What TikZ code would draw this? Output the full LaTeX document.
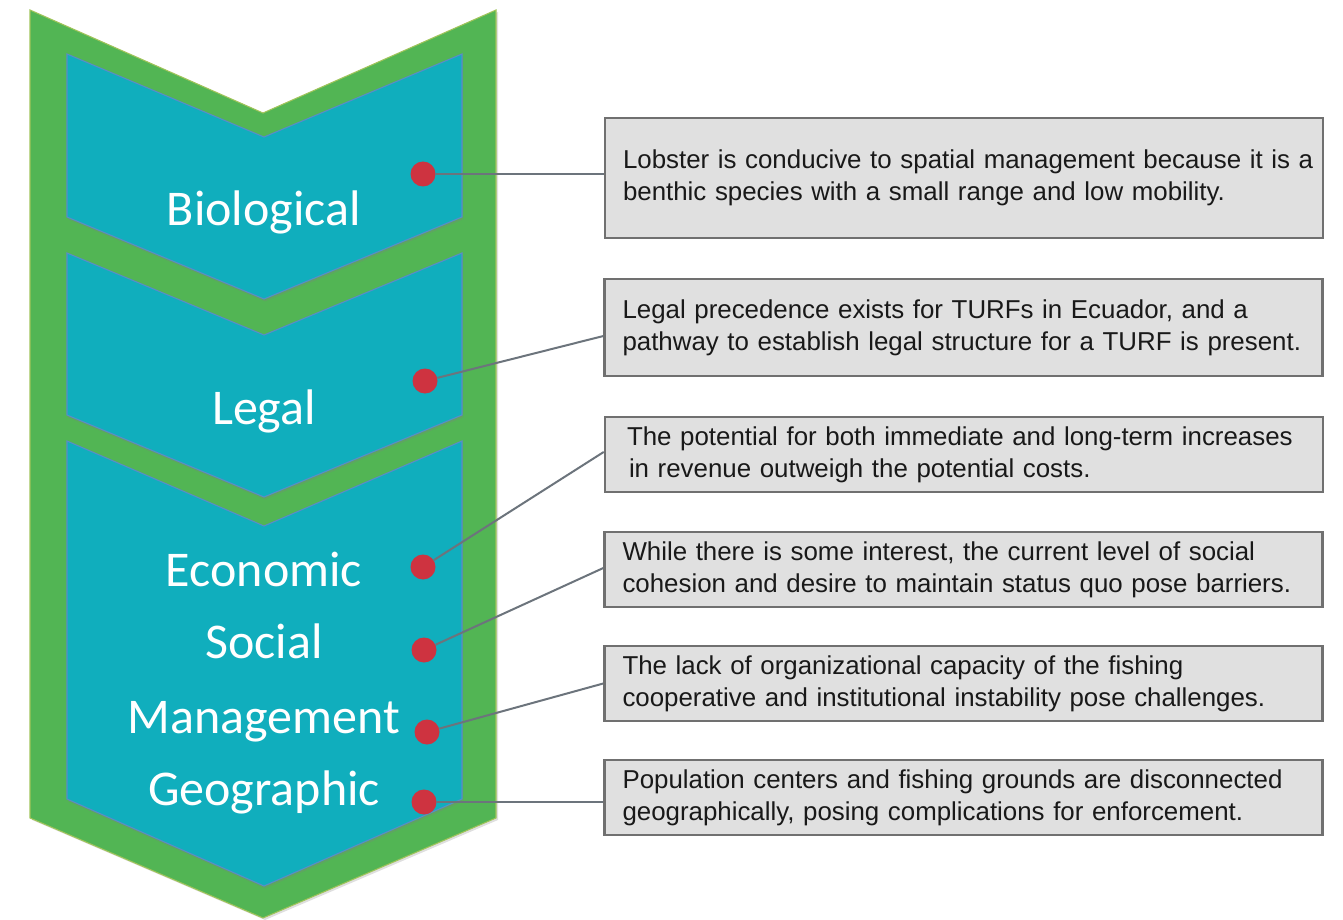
\documentclass[tikz,border=0pt]{standalone}
\usepackage{fontspec}
\setmainfont{Liberation Sans}
\newfontfamily\stagefont{Carlito}
\usetikzlibrary{shadows}
\definecolor{outergreen}{RGB}{82,181,84}
\definecolor{greenedge}{RGB}{160,196,90}
\definecolor{tealfill}{RGB}{16,174,189}
\definecolor{tealedge}{RGB}{90,140,200}
\definecolor{dotred}{RGB}{206,51,64}
\definecolor{wiregray}{RGB}{108,116,124}
\definecolor{boxedge}{RGB}{112,112,112}
\definecolor{boxfill}{RGB}{224,224,224}

\begin{document}
\begin{tikzpicture}[x=0.75pt, y=-0.75pt,
  outer/.style={fill=outergreen, draw=greenedge, line width=0.8pt, drop shadow={shadow xshift=1.5pt, shadow yshift=-1.5pt, opacity=0.25}},
  inner/.style={fill=tealfill, draw=tealedge, line width=0.8pt, drop shadow={shadow xshift=0.8pt, shadow yshift=-1.8pt, opacity=0.3}},
  stagetext/.style={font=\stagefont\fontsize{37.5}{40}\selectfont, text=white, anchor=base, inner sep=0pt},
  reddot/.style={circle, fill=dotred, minimum size=18.75pt, inner sep=0pt},
  notebox/.style={draw=boxedge, line width=1.9pt, fill=boxfill, text width=511.5pt, inner xsep=13.5pt, align=left, text=black!90, font=\fontsize{19.4}{24}\selectfont},
  wire/.style={draw=wiregray, line width=1.5pt}]
\useasboundingbox (0,0) rectangle (1343,920);

\path[outer] (30,10) -- (263,113) -- (496,10) -- (496,818) -- (263,918) -- (30,818) -- cycle;
\path[inner] (67,54) -- (264,137) -- (462,54) -- (462,217) -- (264,299) -- (67,217) -- cycle;
\path[inner] (67,253) -- (264,335) -- (462,253) -- (462,415) -- (264,497) -- (67,415) -- cycle;
\path[inner] (67,441) -- (264,526) -- (462,441) -- (462,799) -- (264,886) -- (67,799) -- cycle;

\node[stagetext] (biological) at (264,226) {Biological};
\node[stagetext] (legal) at (264,424) {Legal};
\node[stagetext] (economic) at (264,586) {Economic};
\node[stagetext] (social) at (264,658) {Social};
\node[stagetext] (management) at (264,733) {Management};
\node[stagetext] (geographic) at (264,805) {Geographic};

\node[notebox, minimum height=90pt] (boxbio) at (964,178) {\mbox{Lobster is conducive to spatial management because it is a}\\benthic species with a small range and low mobility.};
\node[notebox, minimum height=72.75pt] (boxlegal) at (963.5,327.5) {Legal precedence exists for TURFs in Ecuador, and a\\pathway to establish legal structure for a TURF is present.};
\node[notebox, minimum height=56.25pt] (boxecon) at (964,454.5) {\hspace{3pt}The potential for both immediate and long-term increases\\\hspace{4.5pt}in revenue outweigh the potential costs.};
\node[notebox, minimum height=56.25pt] (boxsocial) at (963.5,569.5) {While there is some interest, the current level of social\\cohesion and desire to maintain status quo pose barriers.};
\node[notebox, minimum height=56.25pt] (boxmgmt) at (963.5,683.5) {The lack of organizational capacity of the fishing\\cooperative and institutional instability pose challenges.};
\node[notebox, minimum height=56.25pt] (boxgeo) at (963.5,797.5) {Population centers and fishing grounds are disconnected\\geographically, posing complications for enforcement.};

\node[reddot] (dotbio) at (423,174) {};
\node[reddot] (dotlegal) at (425,381) {};
\node[reddot] (dotecon) at (423,567) {};
\node[reddot] (dotsocial) at (424,650) {};
\node[reddot] (dotmgmt) at (427,732) {};
\node[reddot] (dotgeo) at (424,802) {};

\draw[wire] (dotbio) -- (dotbio -| boxbio.west);
\draw[wire] (dotlegal) -- ([yshift=-6.4pt]boxlegal.west);
\draw[wire] (dotecon) -- ([yshift=1.9pt]boxecon.west);
\draw[wire] (dotsocial) -- ([yshift=1.1pt]boxsocial.west);
\draw[wire] (dotmgmt) -- (boxmgmt.west);
\draw[wire] (dotgeo) -- (dotgeo -| boxgeo.west);
\end{tikzpicture}
\end{document}
